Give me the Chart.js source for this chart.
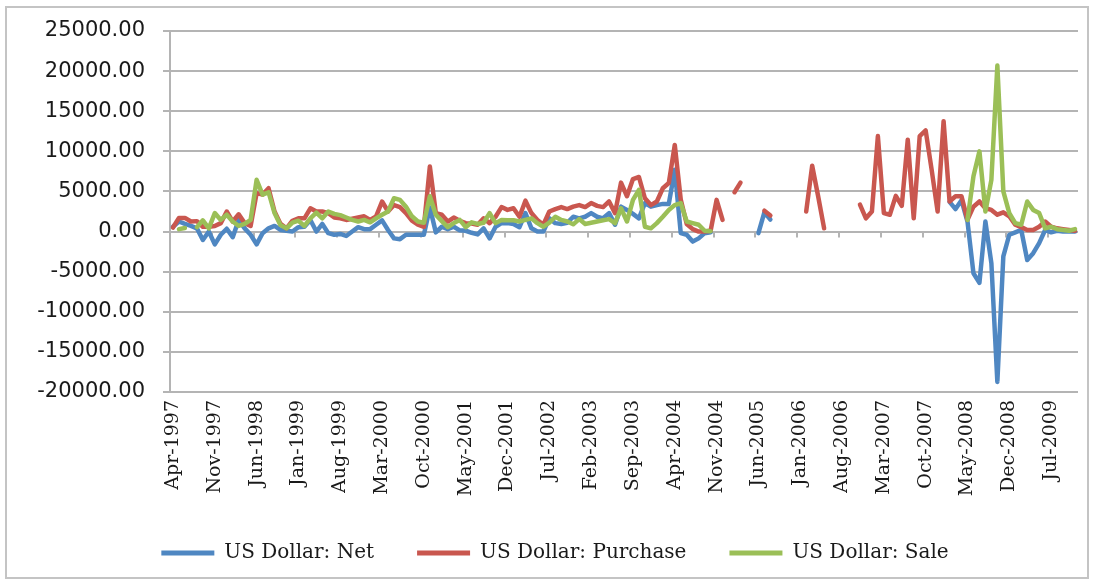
<!DOCTYPE html>
<html><head><meta charset="utf-8">
<script src="https://cdn.jsdelivr.net/npm/chart.js@4.4.0/dist/chart.umd.min.js"></script>
<style>
html,body{margin:0;padding:0;background:#fff;}
#wrap{position:relative;width:1094px;height:580px;background:#fff;}
#frame{position:absolute;left:5px;top:6px;width:1080px;height:569px;border:2px solid #c4c4c4;pointer-events:none;}
</style></head><body>
<div id="wrap"><canvas id="c" width="1094" height="580"></canvas><div id="frame"></div></div>
<script>
const categories = [
 'Apr-1997','May-1997','Jun-1997','Jul-1997','Aug-1997','Sep-1997','Oct-1997','Nov-1997','Dec-1997',
 'Jan-1998','Feb-1998','Mar-1998','Apr-1998','May-1998','Jun-1998','Jul-1998','Aug-1998','Sep-1998','Oct-1998','Nov-1998','Dec-1998',
 'Jan-1999','Feb-1999','Mar-1999','Apr-1999','May-1999','Jun-1999','Jul-1999','Aug-1999','Sep-1999','Oct-1999','Nov-1999','Dec-1999',
 'Jan-2000','Feb-2000','Mar-2000','Apr-2000','May-2000','Jun-2000','Jul-2000','Aug-2000','Sep-2000','Oct-2000','Nov-2000','Dec-2000',
 'Jan-2001','Feb-2001','Mar-2001','Apr-2001','May-2001','Jun-2001','Jul-2001','Aug-2001','Sep-2001','Oct-2001','Nov-2001','Dec-2001',
 'Jan-2002','Feb-2002','Mar-2002','Apr-2002','May-2002','Jun-2002','Jul-2002','Aug-2002','Sep-2002','Oct-2002','Nov-2002','Dec-2002',
 'Jan-2003','Feb-2003','Mar-2003','Apr-2003','May-2003','Jun-2003','Jul-2003','Aug-2003','Sep-2003','Oct-2003','Nov-2003','Dec-2003',
 'Jan-2004','Feb-2004','Mar-2004','Apr-2004','May-2004','Jun-2004','Jul-2004','Aug-2004','Sep-2004','Oct-2004','Nov-2004','Dec-2004',
 'Jan-2005','Feb-2005','Mar-2005','Apr-2005','May-2005','Jun-2005','Jul-2005','Aug-2005','Sep-2005','Oct-2005','Nov-2005','Dec-2005',
 'Jan-2006','Feb-2006','Mar-2006','Apr-2006','May-2006','Jun-2006','Jul-2006','Aug-2006','Sep-2006','Oct-2006','Nov-2006','Dec-2006',
 'Jan-2007','Feb-2007','Mar-2007','Apr-2007','May-2007','Jun-2007','Jul-2007','Aug-2007','Sep-2007','Oct-2007','Nov-2007','Dec-2007',
 'Jan-2008','Feb-2008','Mar-2008','Apr-2008','May-2008','Jun-2008','Jul-2008','Aug-2008','Sep-2008','Oct-2008','Nov-2008','Dec-2008',
 'Jan-2009','Feb-2009','Mar-2009','Apr-2009','May-2009','Jun-2009','Jul-2009','Aug-2009','Sep-2009','Oct-2009','Nov-2009'
];

const usdNet = [
 600, 1250, 950, 700, 400, -1050, 0, -1600, -400, 350,
 -700, 1450, 400, -400, -1600, -200, 400, 700, 200, 100,
 0, 550, 600, 1450, 0, 950, -200, -400, -300, -550,
 0, 550, 300, 300, 850, 1400, 200, -850, -950, -400,
 -400, -400, -400, 3000, -100, 600, 300, 600, 150, 100,
 -150, -350, 400, -850, 600, 1050, 1050, 950, 550, 2300,
 400, 0, 0, 1650, 1050, 950, 1100, 1850, 1650, 1850,
 2300, 1850, 1650, 2300, 850, 3100, 2700, 2200, 1650, 3550,
 3100, 3300, 3450, 3450, 7700, -200, -400, -1250, -850, -200,
 -100, null, null, null, null, null, null, null, -200, 2400,
 1500, null, null, null, null, null, null, null, null, null,
 null, null, null, null, null, null, null, null, null, null,
 null, null, null, null, null, null, null, null, null, null,
 3700, 2800, 3900, 1250, -5200, -6400, 1250, -3950, -18750, -3100,
 -400, -100, 200, -3550, -2700, -1450, 200, -100, 100, 0,
 0, 0
];

const usdPurchase = [
 500, 1700, 1700, 1250, 1300, 600, 600, 700, 1050, 2500,
 1250, 2150, 1050, 700, 4800, 4600, 5400, 2500, 950, 400,
 1350, 1650, 1650, 2900, 2500, 2500, 2300, 1750, 1650, 1450,
 1600, 1750, 1900, 1450, 1900, 3750, 2500, 3300, 3050, 2300,
 1350, 850, 600, 8100, 2300, 2100, 1250, 1750, 1350, 1050,
 1000, 850, 1650, 1050, 1850, 3050, 2700, 2900, 1850, 3850,
 2300, 1450, 850, 2500, 2800, 3050, 2800, 3100, 3300, 3050,
 3550, 3200, 3050, 3750, 2300, 6100, 4400, 6550, 6800, 4150,
 3300, 3750, 5400, 6050, 10800, 4000, 950, 300, 0, 0,
 100, 3950, 1450, null, 4900, 6100, null, null, null, 2600,
 2000, null, null, null, null, null, 2500, 8200, 4400, 400,
 null, null, null, null, null, 3350, 1650, 2500, 11900, 2300,
 2100, 4450, 3200, 11450, 1650, 11900, 12600, 7700, 2500, 13750,
 3750, 4400, 4400, 1450, 3100, 3750, 2900, 2700, 2100, 2400,
 1900, 850, 550, 200, 200, 600, 1250, 600, 400, 300,
 200, 100
];

const usdSale = [
 null, 300, 450, null, 550, 1400, 400, 2300, 1450, 2100,
 1250, 700, 950, 1450, 6450, 4600, 4900, 2300, 800, 400,
 1100, 1350, 700, 1650, 2350, 1650, 2500, 2200, 2050, 1750,
 1450, 1250, 1450, 1150, 1650, 2100, 2500, 4150, 3950, 3100,
 1900, 1250, 1100, 4400, 2100, 1300, 550, 1050, 1450, 550,
 1150, 950, 1100, 2300, 1050, 1450, 1400, 1400, 1250, 1450,
 1650, 1050, 600, 1100, 1850, 1450, 1250, 900, 1550, 950,
 1100, 1250, 1400, 1550, 1050, 2900, 1250, 3950, 5200, 600,
 400, 1050, 1850, 2700, 3300, 3550, 1250, 1050, 850, 100,
 50, null, null, null, null, null, null, null, null, null,
 null, null, null, null, null, null, null, null, null, null,
 null, null, null, null, null, null, null, null, null, null,
 null, null, null, null, null, null, null, null, null, null,
 null, null, null, 1450, 6900, 10000, 2500, 6450, 20700, 5000,
 2300, 1050, 850, 3750, 2700, 2300, 400, 600, 300, 200,
 100, 300
];

const seriesNames = ['US Dollar: Net', 'US Dollar: Purchase', 'US Dollar: Sale'];
const seriesColors = ['#4f87c2', '#c9574f', '#9bbf57'];
const yMin = -20000, yMax = 25000, yStep = 5000;
const labelEvery = 7;

const gridColor = '#b4b4b4';

const zeroTicks = {
  id: 'zeroTicks',
  beforeDatasetsDraw(chart) {
    const xs = chart.scales.x, ys = chart.scales.y, c = chart.ctx;
    const y0 = ys.getPixelForValue(0);
    const half = (xs.getPixelForValue(1) - xs.getPixelForValue(0)) / 2;
    c.save();
    c.strokeStyle = gridColor;
    c.lineWidth = 2;
    c.beginPath();
    for (let k = labelEvery; k < categories.length; k += labelEvery) {
      const px = Math.round(xs.getPixelForValue(k) - half);
      c.moveTo(px, y0);
      c.lineTo(px, y0 + 6);
    }
    c.stroke();
    c.restore();
  }
};

const legendShift = {
  id: 'legendShift',
  afterLayout(chart) {
    if (chart.legend) { chart.legend.left += 6; chart.legend.right += 6; }
  }
};

new Chart(document.getElementById('c'), {
  type: 'line',
  data: {
    labels: categories,
    datasets: [
      { label: seriesNames[0], data: usdNet, borderColor: seriesColors[0], backgroundColor: seriesColors[0], order: 3 },
      { label: seriesNames[1], data: usdPurchase, borderColor: seriesColors[1], backgroundColor: seriesColors[1], order: 2 },
      { label: seriesNames[2], data: usdSale, borderColor: seriesColors[2], backgroundColor: seriesColors[2], order: 1 }
    ]
  },
  options: {
    responsive: false,
    animation: false,
    spanGaps: false,
    elements: {
      point: { radius: 0, hoverRadius: 0 },
      line: { tension: 0, borderWidth: 4.5, borderJoinStyle: 'round', borderCapStyle: 'round' }
    },
    layout: { padding: { left: 20, right: 16, top: 31, bottom: 7 } },
    scales: {
      x: {
        type: 'category',
        offset: true,
        grid: { display: false, drawTicks: false },
        border: { display: false },
        ticks: {
          autoSkip: false, maxRotation: 90, minRotation: 90, padding: 8,
          font: { family: 'DejaVu Serif', size: 19 }, color: '#1a1a1a',
          callback(value, index) { return index % labelEvery === 0 ? this.getLabelForValue(value) : null; }
        },
        afterFit(s) { s.height = 108; }
      },
      y: {
        min: yMin, max: yMax,
        ticks: {
          stepSize: yStep, padding: 18,
          font: { family: 'DejaVu Sans', size: 21 }, color: '#1a1a1a',
          callback: v => Number(v).toFixed(2)
        },
        grid: { color: gridColor, lineWidth: 2, tickLength: 7 },
        border: { color: gridColor, width: 2 },
        afterFit(s) { s.width = 150; }
      }
    },
    plugins: {
      tooltip: { enabled: false },
      legend: {
        position: 'bottom',
        labels: {
          boxWidth: 53, boxHeight: 5, padding: 43,
          font: { family: 'DejaVu Serif', size: 20 }, color: '#1a1a1a',
          sort: (a, b) => a.datasetIndex - b.datasetIndex,
          generateLabels(chart) {
            return chart.data.datasets.map((d, i) => ({
              text: d.label, fillStyle: d.borderColor, strokeStyle: d.borderColor,
              lineWidth: 0, hidden: false, datasetIndex: i, fontColor: '#1a1a1a'
            }));
          }
        }
      }
    }
  },
  plugins: [zeroTicks, legendShift]
});
</script>
</body></html>
